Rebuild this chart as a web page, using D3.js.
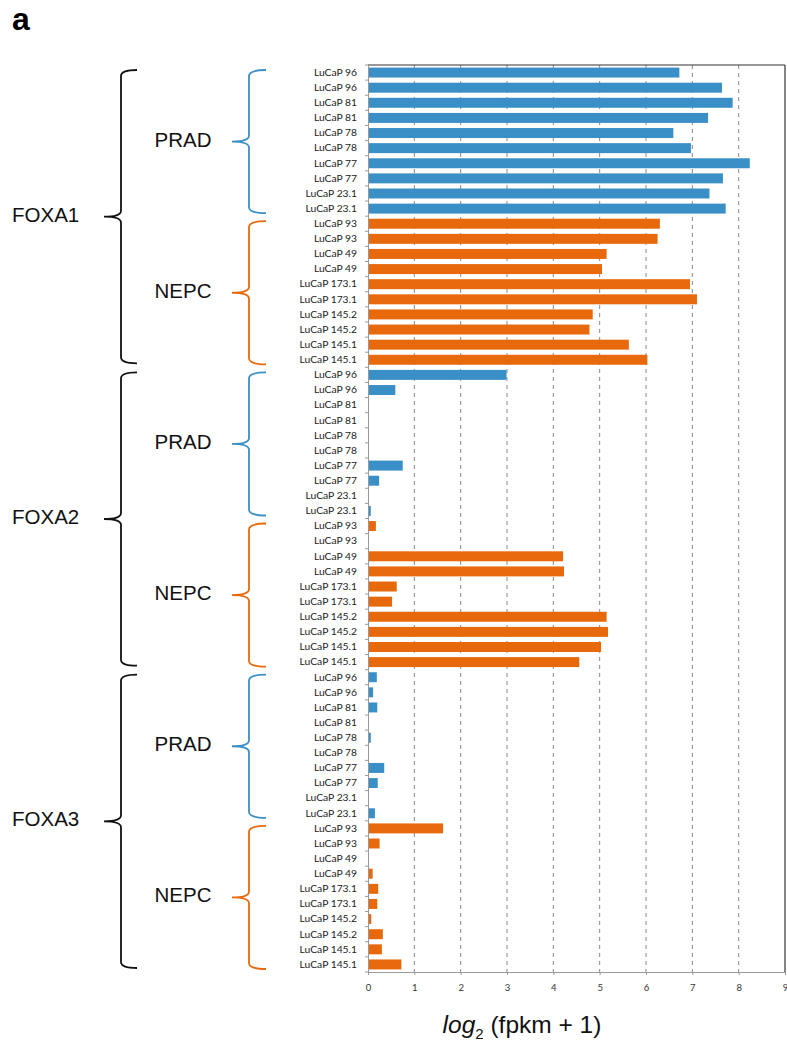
<!DOCTYPE html>
<html>
<head>
<meta charset="utf-8">
<script src="https://cdn.jsdelivr.net/npm/d3@7"></script>
<style>
  body { margin: 0; background: #fff; }
  text { font-family: "Liberation Sans", Arial, sans-serif; }
  .cat text, .xax text { font-family: Lato, "Open Sans", sans-serif; }
</style>
</head>
<body>
<script>
var width = 787;
var height = 1046;

// data
var genes = ["FOXA1", "FOXA2", "FOXA3"];
var groups = ["PRAD", "NEPC"];
var pradSamples = ["LuCaP 96", "LuCaP 96", "LuCaP 81", "LuCaP 81", "LuCaP 78", "LuCaP 78",
  "LuCaP 77", "LuCaP 77", "LuCaP 23.1", "LuCaP 23.1"];
var nepcSamples = ["LuCaP 93", "LuCaP 93", "LuCaP 49", "LuCaP 49", "LuCaP 173.1", "LuCaP 173.1",
  "LuCaP 145.2", "LuCaP 145.2", "LuCaP 145.1", "LuCaP 145.1"];
var foxa1 = [6.72, 7.64, 7.87, 7.34, 6.59, 6.97, 8.24, 7.66, 7.37, 7.72,
  6.30, 6.25, 5.15, 5.05, 6.95, 7.10, 4.85, 4.78, 5.63, 6.03];
var foxa2 = [2.99, 0.59, 0, 0, 0, 0, 0.75, 0.24, 0, 0.06,
  0.17, 0, 4.21, 4.23, 0.62, 0.52, 5.15, 5.18, 5.03, 4.56];
var foxa3 = [0.19, 0.11, 0.20, 0.02, 0.06, 0, 0.35, 0.21, 0.02, 0.15,
  1.62, 0.25, 0.02, 0.10, 0.22, 0.20, 0.07, 0.32, 0.30, 0.72];
var xTicks = [0, 1, 2, 3, 4, 5, 6, 7, 8, 9];

var groupColor = { PRAD: "#3b8fc7", NEPC: "#e8690c" };

// flatten into rows
var seriesByGene = [foxa1, foxa2, foxa3];
var rows = [];
genes.forEach(function (g, gi) {
  var samples = pradSamples.concat(nepcSamples);
  samples.forEach(function (s, si) {
    rows.push({
      gene: g,
      group: si < 10 ? "PRAD" : "NEPC",
      sample: s,
      value: seriesByGene[gi][si],
      idx: rows.length
    });
  });
});

var svg = d3.select("body").append("svg")
  .attr("width", width).attr("height", height);

var pLeft = 368, pRight = 785, pTop = 65, pBottom = 972;

var x = d3.scaleLinear().domain([0, 9]).range([pLeft, pRight]);
var y = d3.scaleBand().domain(d3.range(rows.length)).range([pTop, pBottom])
  .paddingInner(0.34).paddingOuter(0.17);
var step = y.step();

// gridlines
svg.append("g").selectAll("line").data(xTicks.slice(1, -1)).enter().append("line")
  .attr("x1", function (d) { return x(d); }).attr("x2", function (d) { return x(d); })
  .attr("y1", pTop).attr("y2", pBottom)
  .style("stroke", "#8a8a8a").style("stroke-width", 1)
  .style("stroke-dasharray", "4,4");

// bars
svg.append("g").selectAll("rect").data(rows).enter().append("rect")
  .attr("x", x(0))
  .attr("y", function (d) { return y(d.idx); })
  .attr("width", function (d) { return x(d.value) - x(0); })
  .attr("height", y.bandwidth())
  .style("fill", function (d) { return groupColor[d.group]; });

// frame: top and right dark, left and bottom grey
svg.append("line").attr("x1", pLeft).attr("x2", pRight).attr("y1", pTop).attr("y2", pTop)
  .style("stroke", "#333").style("stroke-width", 1.2);
svg.append("line").attr("x1", pRight).attr("x2", pRight).attr("y1", pTop).attr("y2", pBottom)
  .style("stroke", "#333").style("stroke-width", 1.2);

// x axis
var xAxis = svg.append("g").attr("class", "xax")
  .attr("transform", "translate(0," + pBottom + ")")
  .call(d3.axisBottom(x).tickValues(xTicks).tickSizeInner(3).tickSizeOuter(0).tickPadding(9));
xAxis.select(".domain").style("stroke", "#999");
xAxis.selectAll(".tick line").style("stroke", "#999");
xAxis.selectAll("text").style("font-size", "9.5px").style("fill", "#333");

// y axis: labels centred on the bars, ticks at row boundaries
var yAxis = svg.append("g").attr("class", "cat")
  .attr("transform", "translate(" + pLeft + ",0)")
  .call(d3.axisLeft(y).tickSize(0).tickPadding(11)
    .tickFormat(function (i) { return rows[i].sample; }));
yAxis.select(".domain").style("stroke", "#999");
yAxis.selectAll("text").style("font-size", "10.3px").style("fill", "#222");

svg.append("g").selectAll("line").data(d3.range(rows.length + 1)).enter().append("line")
  .attr("x1", pLeft - 3).attr("x2", pLeft)
  .attr("y1", function (i) { return pTop + i * step; })
  .attr("y2", function (i) { return pTop + i * step; })
  .style("stroke", "#999");

// curly braces
function brace(xLine, xHook, xTip, y0, y1) {
  var m = (y0 + y1) / 2;
  var r = 6;
  return "M" + xHook + "," + y0 +
    " Q" + xLine + "," + y0 + " " + xLine + "," + (y0 + r) +
    " L" + xLine + "," + (m - r) +
    " Q" + xLine + "," + m + " " + xTip + "," + m +
    " Q" + xLine + "," + m + " " + xLine + "," + (m + r) +
    " L" + xLine + "," + (y1 - r) +
    " Q" + xLine + "," + y1 + " " + xHook + "," + y1;
}

genes.forEach(function (g, gi) {
  var first = gi * 20, last = gi * 20 + 19;
  var y0 = pTop + first * step + 5;
  var y1 = pTop + (last + 1) * step - 4;
  svg.append("path").attr("d", brace(121, 137, 104, y0, y1))
    .style("fill", "none").style("stroke", "#111").style("stroke-width", 1.8);
  svg.append("text").attr("x", 12).attr("y", (y0 + y1) / 2 + 5)
    .style("font-size", "20.5px").style("fill", "#111").text(g);

  groups.forEach(function (grp, k) {
    var a = first + k * 10, b = a + 9;
    var s0 = pTop + a * step + 5;
    var s1 = pTop + (b + 1) * step - 3;
    svg.append("path").attr("d", brace(249, 266, 232, s0, s1))
      .style("fill", "none").style("stroke", groupColor[grp]).style("stroke-width", 1.8);
    svg.append("text").attr("x", 183).attr("y", (s0 + s1) / 2 + 5)
      .attr("text-anchor", "middle")
      .style("font-size", "20.5px").style("fill", "#111").text(grp);
  });
});

// axis title
var title = svg.append("text").attr("x", 522).attr("y", 1033)
  .attr("text-anchor", "middle").style("font-size", "24.5px").style("fill", "#111");
title.append("tspan").style("font-style", "italic").text("log");
title.append("tspan").attr("dy", 6).style("font-size", "15px").text("2");
title.append("tspan").attr("dy", -6).text(" (fpkm + 1)");

// panel letter
svg.append("text").attr("x", 12).attr("y", 30)
  .style("font-size", "32px").style("font-weight", "bold").style("fill", "#000").text("a");
</script>
</body>
</html>
